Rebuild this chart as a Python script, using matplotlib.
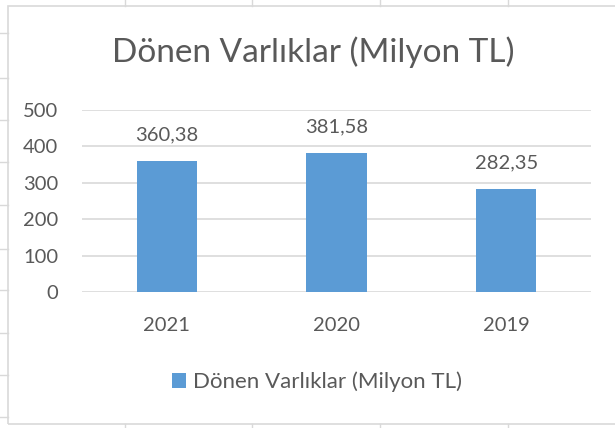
import matplotlib
matplotlib.use("Agg")
import matplotlib.pyplot as plt
from matplotlib.patches import Rectangle
from matplotlib.lines import Line2D

categories = ["2021", "2020", "2019"]
values = [360.38, 381.58, 282.35]
value_labels = ["360,38", "381,58", "282,35"]
series_name = "Dönen Varlıklar (Milyon TL)"
title = "Dönen Varlıklar (Milyon TL)"
yticks = [0, 100, 200, 300, 400, 500]

W, H = 615, 428
plt.rcParams['font.family'] = ['Lato', 'DejaVu Sans']
TXT = "#595959"
GRID = "#d9d9d9"
BAR = "#5B9BD5"

fig = plt.figure(figsize=(W / 100, H / 100), dpi=100)

def fx(px):
    return px / W

def fy(py):
    return 1 - py / H

# chart border
fig.patches.append(Rectangle((fx(8), fy(424)), fx(640) - fx(8), fy(6) - fy(424),
                             transform=fig.transFigure, fill=False,
                             edgecolor=GRID, linewidth=1.2))
# cell gridline ticks outside the border
for x in [125, 252, 380, 508]:
    fig.lines.append(Line2D([fx(x), fx(x)], [fy(0), fy(6)], transform=fig.transFigure, color=GRID, lw=1))
    fig.lines.append(Line2D([fx(x), fx(x)], [fy(424), fy(428)], transform=fig.transFigure, color=GRID, lw=1))
for y in [33, 78, 120, 162, 205, 249, 290, 333, 375, 417]:
    fig.lines.append(Line2D([fx(0), fx(8)], [fy(y), fy(y)], transform=fig.transFigure, color=GRID, lw=1))

ax = fig.add_axes([fx(82), fy(292), fx(591) - fx(82), fy(110) - fy(292)])
x = list(range(len(categories)))
bars = ax.bar(x, values, width=0.354, color=BAR, zorder=3, label=series_name)
ax.set_xlim(-0.5, len(categories) - 0.5)
ax.set_ylim(0, 500)
ax.set_yticks(yticks)
ax.set_yticklabels([str(v) for v in yticks])
ax.set_xticks(x)
ax.set_xticklabels(categories)
ax.yaxis.grid(True, color=GRID, linewidth=1.2, zorder=0)
ax.tick_params(axis='both', length=0, labelsize=14.5, labelcolor=TXT)
ax.tick_params(axis='y', pad=17)
ax.tick_params(axis='x', pad=18)
for s in ax.spines.values():
    s.set_visible(False)

for xi, v, lab in zip(x, values, value_labels):
    ax.annotate(lab, (xi, v), xytext=(0, 19), textcoords='offset points',
                ha='center', va='center', fontsize=14.5, color=TXT)

fig.text(fx(313), fy(52), title, ha='center', va='center', fontsize=24, color=TXT)

fig.legend(handles=[bars], labels=[series_name], loc='center',
           bbox_to_anchor=(fx(317), fy(382)), frameon=False, fontsize=16,
           handlelength=0.63, handleheight=0.63, handletextpad=0.3, labelcolor=TXT)

fig.savefig("out.png", dpi=100)
